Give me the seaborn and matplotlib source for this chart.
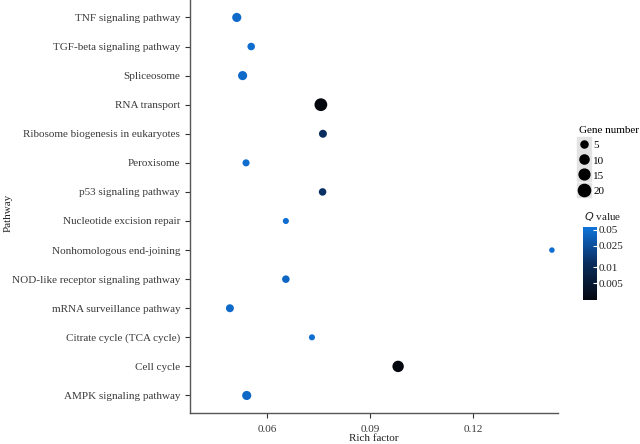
import matplotlib
matplotlib.use("Agg")
import matplotlib.pyplot as plt
import seaborn as sns
import pandas as pd
from matplotlib.colors import LinearSegmentedColormap, LogNorm
from matplotlib.lines import Line2D
from matplotlib.legend_handler import HandlerTuple
import matplotlib.cm as cm

pathways = [
    "TNF signaling pathway",
    "TGF-beta signaling pathway",
    "Spliceosome",
    "RNA transport",
    "Ribosome biogenesis in eukaryotes",
    "Peroxisome",
    "p53 signaling pathway",
    "Nucleotide excision repair",
    "Nonhomologous end-joining",
    "NOD-like receptor signaling pathway",
    "mRNA surveillance pathway",
    "Citrate cycle (TCA cycle)",
    "Cell cycle",
    "AMPK signaling pathway",
]
rich_factor = [0.0512, 0.0554, 0.0529, 0.0757, 0.0763, 0.0539, 0.0762,
               0.0655, 0.1430, 0.0655, 0.0492, 0.0731, 0.0982, 0.0541]
gene_number = [10, 6, 10, 22, 7, 5, 6, 3, 2, 6, 7, 3, 17, 10]
q_value = [0.045, 0.048, 0.045, 0.001, 0.012, 0.048, 0.013,
           0.049, 0.050, 0.042, 0.045, 0.050, 0.0008, 0.043]

size_ticks = [5, 10, 15, 20]
q_ticks = [0.05, 0.025, 0.01, 0.005]

df = pd.DataFrame({"Pathway": pathways, "Rich factor": rich_factor,
                   "Gene number": gene_number, "Q value": q_value})

plt.rcParams["font.family"] = ["Liberation Serif", "DejaVu Serif"]
cmap = LinearSegmentedColormap.from_list("q", ["#05070e", "#0a2c5c", "#0f74dc"])
norm = LogNorm(vmin=0.0024, vmax=0.057)

fig = plt.figure(figsize=(6.4, 4.44), dpi=100)
ax = fig.add_axes([0.297, 0.07, 0.575, 0.93])

# marker area (pt^2) grows linearly with gene number
sns.scatterplot(data=df, x="Rich factor", y="Pathway", size="Gene number",
                sizes=(8.8, 95), size_norm=(0, 25), hue="Q value",
                palette=cmap, hue_norm=norm, linewidth=0, legend=False, ax=ax)

ax.set_ylim(13.6, -0.6)
ax.set_xlim(0.0376, 0.1448)
ax.set_xticks([0.06, 0.09, 0.12])
ax.set_xticklabels(["0.06", "0.09", "0.12"])
ax.tick_params(labelsize=8, colors="#333333", length=3.5, width=0.8)
ax.tick_params(axis="both", labelcolor="#3a3a3a")
ax.tick_params(axis="x", pad=5)
for s in ["top", "right"]:
    ax.spines[s].set_visible(False)
for s in ["left", "bottom"]:
    ax.spines[s].set_color("#555555")
    ax.spines[s].set_linewidth(1.0)
ax.set_xlabel("Rich factor", fontsize=8, color="#222222", labelpad=0)
ax.set_ylabel("")
fig.text(0.013, 0.52, "Pathway", rotation=90, fontsize=8, color="#222222",
         ha="center", va="center")

# gene number legend with grey key background
def area_for(c):
    return 8.8 + (95 - 8.8) * c / 25

handles = []
for c in size_ticks:
    bg = Line2D([], [], linestyle="none", marker="s", color="#e3e3e3",
                markersize=10)
    mk = Line2D([], [], linestyle="none", marker="o", color="black",
                markersize=area_for(c) ** 0.5)
    handles.append((bg, mk))
leg = fig.legend(handles, [str(c) for c in size_ticks], title="Gene number",
                 handler_map={tuple: HandlerTuple(ndivide=1)},
                 loc="upper left", bbox_to_anchor=(0.905, 0.716),
                 frameon=False, fontsize=8, title_fontsize=8,
                 handlelength=0.9, handleheight=1.0, handletextpad=0.35,
                 labelspacing=0.4, borderaxespad=0, borderpad=0)
leg._legend_box.align = "left"

# Q value colour bar
cax = fig.add_axes([0.911, 0.324, 0.022, 0.165])
sm = cm.ScalarMappable(norm=norm, cmap=cmap)
cb = fig.colorbar(sm, cax=cax)
cb.outline.set_visible(False)
cb.set_ticks(q_ticks)
cb.set_ticklabels([str(t) for t in q_ticks])
cb.minorticks_off()
cax.tick_params(labelsize=8, length=3, color="white", direction="in",
                labelcolor="#222222", pad=1)
fig.text(0.913, 0.497, "$\\it{Q}$ value", fontsize=8, color="#222222",
         va="bottom", ha="left", family="Liberation Serif")

fig.savefig("out.png", dpi=100)
